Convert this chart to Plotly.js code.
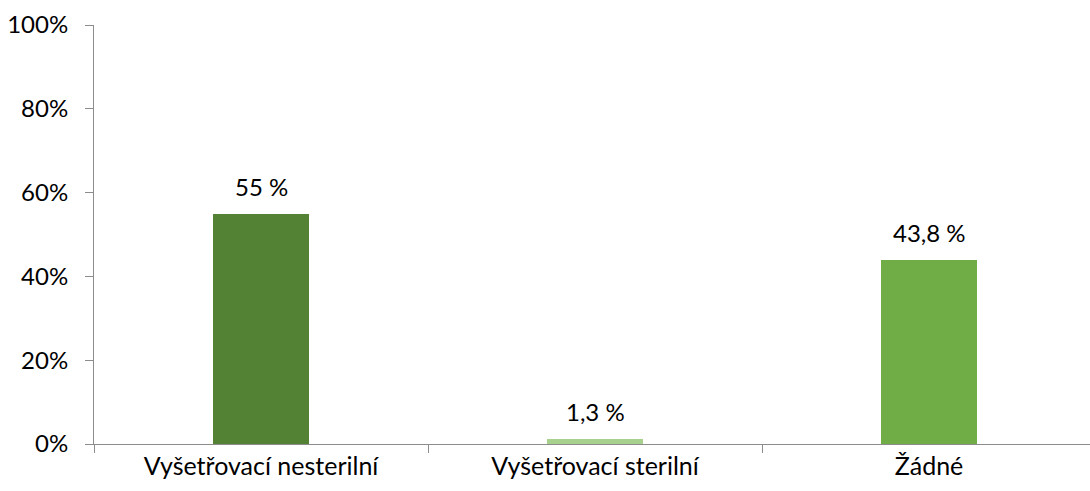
<!DOCTYPE html>
<html>
<head>
<meta charset="utf-8">
<script src="https://cdn.plot.ly/plotly-3.0.1.min.js"></script>
<style>html,body{margin:0;padding:0;background:#fff;}#chart{width:1090px;height:491px;}</style>
</head>
<body>
<div id="chart"></div>
<script>
const categories = ["Vyšetřovací nesterilní", "Vyšetřovací sterilní", "Žádné"];
const values = [0.55, 0.013, 0.438];
const labels = ["55 %", "1,3 %", "43,8 %"];
const colors = ["#548235", "#a9d18e", "#70ad47"];

const FONT = "Lato, 'Open Sans', sans-serif";

const trace = {
  type: "bar",
  x: categories,
  y: values,
  width: 0.29,
  marker: {color: colors},
  hoverinfo: "skip"
};

const annotations = categories.map((c, i) => ({
  x: c, y: values[i], xref: "x", yref: "y",
  text: labels[i], showarrow: false,
  yanchor: "bottom", yshift: 11,
  font: {family: FONT, size: 24, color: "#000"}
}));

const layout = {
  width: 1090, height: 491,
  margin: {l: 94, r: 0, t: 25, b: 47},
  paper_bgcolor: "#fff", plot_bgcolor: "#fff",
  showlegend: false,
  bargap: 0,
  xaxis: {
    type: "category",
    range: [-0.5, 2.482],
    showline: true, linecolor: "#8c8c8c", linewidth: 1,
    ticks: "outside", tickson: "boundaries", ticklen: 8, tickcolor: "#8c8c8c",
    showgrid: false, zeroline: false,
    tickfont: {family: FONT, size: 25, color: "#000"}
  },
  yaxis: {
    range: [0, 1],
    tickvals: [0, 0.2, 0.4, 0.6, 0.8, 1],
    tickformat: ".0%",
    showline: true, linecolor: "#8c8c8c", linewidth: 1,
    ticks: "outside", ticklen: 8, tickcolor: "#8c8c8c",
    ticklabelstandoff: 12,
    showgrid: false, zeroline: false,
    tickfont: {family: FONT, size: 24, color: "#000"}
  },
  annotations: annotations
};

Plotly.newPlot("chart", [trace], layout, {displayModeBar: false, staticPlot: true});
</script>
</body>
</html>
